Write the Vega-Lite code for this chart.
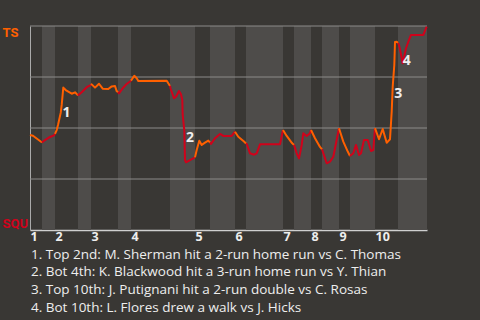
{
  "$schema": "https://vega.github.io/schema/vega-lite/v6.json",
  "width": 397,
  "height": 204,
  "autosize": "none",
  "padding": {"left": 30, "top": 26, "right": 53, "bottom": 90},
  "background": "#393734",
  "config": {"view": {"stroke": null}, "font": "Open Sans"},
  "title": {
    "text": [
      "1. Top 2nd: M. Sherman hit a 2-run home run vs C. Thomas",
      "2. Bot 4th: K. Blackwood hit a 3-run home run vs Y. Thian",
      "3. Top 10th: J. Putignani hit a 2-run double vs C. Rosas",
      "4. Bot 10th: L. Flores drew a walk vs J. Hicks"
    ],
    "orient": "bottom",
    "anchor": "start",
    "frame": "group",
    "dx": 1,
    "color": "#eeeeee",
    "font": "Open Sans",
    "fontSize": 13.5,
    "fontWeight": "normal",
    "lineHeight": 17.7,
    "offset": 5
  },
  "datasets": {
    "bands": [
      {"a": 12, "b": 25}, {"a": 48, "b": 61}, {"a": 88, "b": 101}, {"a": 140, "b": 165},
      {"a": 180, "b": 205}, {"a": 216, "b": 253}, {"a": 264, "b": 281}, {"a": 292, "b": 309},
      {"a": 320, "b": 345}, {"a": 368, "b": 397}
    ],
    "grid": [{"v": 0.25}, {"v": 0.5}, {"v": 0.75}, {"v": 1}],
    "notes": [
      {"x": 36.5, "p": 0.574, "t": "1"},
      {"x": 160, "p": 0.451, "t": "2"},
      {"x": 368.3, "p": 0.669, "t": "3"},
      {"x": 376.7, "p": 0.83, "t": "4"}
    ],
    "wp": [
      {"x": 0, "p": 0.466, "s": 1, "h": "t"}, {"x": 3, "p": 0.462, "s": 1, "h": "t"}, {"x": 11.7, "p": 0.43, "s": 1, "h": "t"}, {"x": 12, "p": 0.429, "s": 1, "h": "t"},
      {"x": 12, "p": 0.429, "s": 2, "h": "b"}, {"x": 15, "p": 0.441, "s": 2, "h": "b"}, {"x": 20, "p": 0.456, "s": 2, "h": "b"}, {"x": 24, "p": 0.464, "s": 2, "h": "b"}, {"x": 25, "p": 0.471, "s": 2, "h": "b"},
      {"x": 25, "p": 0.471, "s": 3, "h": "t"}, {"x": 26.7, "p": 0.49, "s": 3, "h": "t"}, {"x": 28, "p": 0.515, "s": 3, "h": "t"}, {"x": 30.7, "p": 0.574, "s": 3, "h": "t"}, {"x": 31.7, "p": 0.613, "s": 3, "h": "t"}, {"x": 33.3, "p": 0.698, "s": 3, "h": "t"}, {"x": 35.7, "p": 0.686, "s": 3, "h": "t"}, {"x": 38.3, "p": 0.678, "s": 3, "h": "t"}, {"x": 41.7, "p": 0.668, "s": 3, "h": "t"}, {"x": 45, "p": 0.675, "s": 3, "h": "t"}, {"x": 48, "p": 0.66, "s": 3, "h": "t"},
      {"x": 48, "p": 0.66, "s": 4, "h": "b"}, {"x": 51.7, "p": 0.675, "s": 4, "h": "b"}, {"x": 56.7, "p": 0.7, "s": 4, "h": "b"}, {"x": 61, "p": 0.711, "s": 4, "h": "b"},
      {"x": 61, "p": 0.711, "s": 5, "h": "t"}, {"x": 61.7, "p": 0.714, "s": 5, "h": "t"}, {"x": 65, "p": 0.698, "s": 5, "h": "t"}, {"x": 69, "p": 0.717, "s": 5, "h": "t"}, {"x": 72.7, "p": 0.693, "s": 5, "h": "t"}, {"x": 78.3, "p": 0.691, "s": 5, "h": "t"}, {"x": 81.7, "p": 0.704, "s": 5, "h": "t"}, {"x": 85, "p": 0.706, "s": 5, "h": "t"}, {"x": 86.7, "p": 0.681, "s": 5, "h": "t"}, {"x": 88, "p": 0.675, "s": 5, "h": "t"},
      {"x": 88, "p": 0.675, "s": 6, "h": "b"}, {"x": 89, "p": 0.67, "s": 6, "h": "b"}, {"x": 92.7, "p": 0.695, "s": 6, "h": "b"}, {"x": 96.7, "p": 0.716, "s": 6, "h": "b"}, {"x": 101, "p": 0.732, "s": 6, "h": "b"},
      {"x": 101, "p": 0.732, "s": 7, "h": "t"}, {"x": 104.3, "p": 0.756, "s": 7, "h": "t"}, {"x": 106.7, "p": 0.744, "s": 7, "h": "t"}, {"x": 108.3, "p": 0.73, "s": 7, "h": "t"}, {"x": 136.7, "p": 0.732, "s": 7, "h": "t"}, {"x": 138.3, "p": 0.719, "s": 7, "h": "t"}, {"x": 140, "p": 0.706, "s": 7, "h": "t"},
      {"x": 140, "p": 0.706, "s": 8, "h": "b"}, {"x": 140.7, "p": 0.691, "s": 8, "h": "b"}, {"x": 144, "p": 0.646, "s": 8, "h": "b"}, {"x": 146, "p": 0.653, "s": 8, "h": "b"}, {"x": 149, "p": 0.681, "s": 8, "h": "b"}, {"x": 151, "p": 0.665, "s": 8, "h": "b"}, {"x": 152.3, "p": 0.637, "s": 8, "h": "b"}, {"x": 152.7, "p": 0.564, "s": 8, "h": "b"}, {"x": 154.3, "p": 0.49, "s": 8, "h": "b"}, {"x": 155, "p": 0.343, "s": 8, "h": "b"}, {"x": 156, "p": 0.332, "s": 8, "h": "b"}, {"x": 160, "p": 0.343, "s": 8, "h": "b"}, {"x": 165, "p": 0.356, "s": 8, "h": "b"},
      {"x": 165, "p": 0.356, "s": 9, "h": "t"}, {"x": 166.7, "p": 0.392, "s": 9, "h": "t"}, {"x": 169.3, "p": 0.438, "s": 9, "h": "t"}, {"x": 171.7, "p": 0.417, "s": 9, "h": "t"}, {"x": 175, "p": 0.428, "s": 9, "h": "t"}, {"x": 178.3, "p": 0.438, "s": 9, "h": "t"}, {"x": 180, "p": 0.429, "s": 9, "h": "t"},
      {"x": 180, "p": 0.429, "s": 10, "h": "b"}, {"x": 181, "p": 0.422, "s": 10, "h": "b"}, {"x": 185, "p": 0.45, "s": 10, "h": "b"}, {"x": 190, "p": 0.471, "s": 10, "h": "b"}, {"x": 193.3, "p": 0.461, "s": 10, "h": "b"}, {"x": 201.7, "p": 0.461, "s": 10, "h": "b"}, {"x": 205, "p": 0.482, "s": 10, "h": "b"},
      {"x": 205, "p": 0.482, "s": 11, "h": "t"}, {"x": 208.3, "p": 0.457, "s": 11, "h": "t"}, {"x": 214, "p": 0.434, "s": 11, "h": "t"}, {"x": 216, "p": 0.424, "s": 11, "h": "t"},
      {"x": 216, "p": 0.424, "s": 12, "h": "b"}, {"x": 216.7, "p": 0.422, "s": 12, "h": "b"}, {"x": 220, "p": 0.376, "s": 12, "h": "b"}, {"x": 224, "p": 0.369, "s": 12, "h": "b"}, {"x": 226.7, "p": 0.376, "s": 12, "h": "b"}, {"x": 230, "p": 0.42, "s": 12, "h": "b"}, {"x": 250, "p": 0.42, "s": 12, "h": "b"}, {"x": 253, "p": 0.49, "s": 12, "h": "b"},
      {"x": 253, "p": 0.49, "s": 13, "h": "t"}, {"x": 256.7, "p": 0.461, "s": 13, "h": "t"}, {"x": 262, "p": 0.426, "s": 13, "h": "t"}, {"x": 264, "p": 0.417, "s": 13, "h": "t"},
      {"x": 264, "p": 0.417, "s": 14, "h": "b"}, {"x": 266.7, "p": 0.376, "s": 14, "h": "b"}, {"x": 269, "p": 0.351, "s": 14, "h": "b"}, {"x": 271.7, "p": 0.417, "s": 14, "h": "b"}, {"x": 273.3, "p": 0.474, "s": 14, "h": "b"}, {"x": 276.7, "p": 0.461, "s": 14, "h": "b"}, {"x": 280, "p": 0.474, "s": 14, "h": "b"}, {"x": 281, "p": 0.49, "s": 14, "h": "b"},
      {"x": 281, "p": 0.49, "s": 15, "h": "t"}, {"x": 285, "p": 0.45, "s": 15, "h": "t"}, {"x": 290, "p": 0.407, "s": 15, "h": "t"}, {"x": 292, "p": 0.395, "s": 15, "h": "t"},
      {"x": 292, "p": 0.395, "s": 16, "h": "b"}, {"x": 296.7, "p": 0.327, "s": 16, "h": "b"}, {"x": 300, "p": 0.335, "s": 16, "h": "b"}, {"x": 303.3, "p": 0.359, "s": 16, "h": "b"}, {"x": 309, "p": 0.499, "s": 16, "h": "b"},
      {"x": 309, "p": 0.499, "s": 17, "h": "t"}, {"x": 313.3, "p": 0.433, "s": 17, "h": "t"}, {"x": 318, "p": 0.382, "s": 17, "h": "t"}, {"x": 320, "p": 0.363, "s": 17, "h": "t"},
      {"x": 320, "p": 0.363, "s": 18, "h": "b"}, {"x": 323.3, "p": 0.376, "s": 18, "h": "b"}, {"x": 326, "p": 0.417, "s": 18, "h": "b"}, {"x": 329, "p": 0.368, "s": 18, "h": "b"}, {"x": 331, "p": 0.376, "s": 18, "h": "b"}, {"x": 334, "p": 0.441, "s": 18, "h": "b"}, {"x": 337.7, "p": 0.441, "s": 18, "h": "b"}, {"x": 341, "p": 0.387, "s": 18, "h": "b"}, {"x": 343.3, "p": 0.392, "s": 18, "h": "b"}, {"x": 345, "p": 0.499, "s": 18, "h": "b"},
      {"x": 345, "p": 0.499, "s": 19, "h": "t"}, {"x": 349, "p": 0.445, "s": 19, "h": "t"}, {"x": 352.7, "p": 0.495, "s": 19, "h": "t"}, {"x": 356.7, "p": 0.428, "s": 19, "h": "t"}, {"x": 360, "p": 0.445, "s": 19, "h": "t"}, {"x": 361.7, "p": 0.58, "s": 19, "h": "t"}, {"x": 362.7, "p": 0.702, "s": 19, "h": "t"}, {"x": 364.3, "p": 0.809, "s": 19, "h": "t"}, {"x": 365, "p": 0.922, "s": 19, "h": "t"}, {"x": 366.7, "p": 0.923, "s": 19, "h": "t"}, {"x": 368, "p": 0.917, "s": 19, "h": "t"},
      {"x": 368, "p": 0.917, "s": 20, "h": "b"}, {"x": 369, "p": 0.907, "s": 20, "h": "b"}, {"x": 371, "p": 0.861, "s": 20, "h": "b"}, {"x": 372.7, "p": 0.817, "s": 20, "h": "b"}, {"x": 376, "p": 0.891, "s": 20, "h": "b"}, {"x": 379.3, "p": 0.936, "s": 20, "h": "b"}, {"x": 381, "p": 0.956, "s": 20, "h": "b"}, {"x": 393.3, "p": 0.956, "s": 20, "h": "b"}, {"x": 396.7, "p": 0.997, "s": 20, "h": "b"}
    ]
  },
  "layer": [
    {
      "data": {"name": "bands"},
      "mark": {"type": "rect", "color": "#4e4c4a"},
      "encoding": {
        "x": {
          "field": "a", "type": "quantitative",
          "scale": {"domain": [0, 397], "nice": false, "zero": false},
          "axis": {
            "title": null, "grid": false, "ticks": false,
            "values": [0, 25, 61, 101, 165, 205, 253, 281, 309, 345],
            "labelExpr": "indexof([0, 25, 61, 101, 165, 205, 253, 281, 309, 345], datum.value) + 1",
            "labelAlign": "left", "labelFlush": false, "labelOverlap": false,
            "labelFont": "Open Sans", "labelFontWeight": "bold", "labelFontSize": 12.5,
            "labelColor": "#eeeeee", "labelPadding": 0,
            "domainColor": "#cfcfcf", "domainWidth": 1.5
          }
        },
        "x2": {"field": "b"}
      }
    },
    {
      "data": {"name": "grid"},
      "mark": {"type": "rule", "color": "#8c8b89", "strokeWidth": 1},
      "encoding": {
        "y": {
          "field": "v", "type": "quantitative",
          "scale": {"domain": [0, 1], "nice": false},
          "axis": {
            "title": null, "grid": false, "ticks": false,
            "values": [0, 1],
            "labelExpr": "datum.value == 1 ? 'TS' : 'SQU'",
            "labelFlush": true,
            "labelAlign": "left",
            "labelFont": "Roboto", "labelFontWeight": "bold", "labelFontSize": 13,
            "labelColor": {"condition": {"test": "datum.value == 1", "value": "#ff6000"}, "value": "#d0021b"},
            "labelPadding": 28,
            "domainColor": "#aaaaaa"
          }
        }
      }
    },
    {
      "data": {"name": "wp"},
      "mark": {"type": "line", "strokeWidth": 2, "strokeJoin": "round"},
      "encoding": {
        "x": {"field": "x", "type": "quantitative"},
        "y": {"field": "p", "type": "quantitative"},
        "detail": {"field": "s", "type": "nominal"},
        "color": {
          "field": "h", "type": "nominal",
          "scale": {"domain": ["t", "b"], "range": ["#ff6000", "#d0021b"]},
          "legend": null
        }
      }
    },
    {
      "data": {"name": "notes"},
      "mark": {"type": "text", "color": "#eeeeee", "font": "Open Sans", "fontWeight": "bold", "fontSize": 14},
      "encoding": {
        "x": {"field": "x", "type": "quantitative"},
        "y": {"field": "p", "type": "quantitative"},
        "text": {"field": "t"}
      }
    }
  ]
}
